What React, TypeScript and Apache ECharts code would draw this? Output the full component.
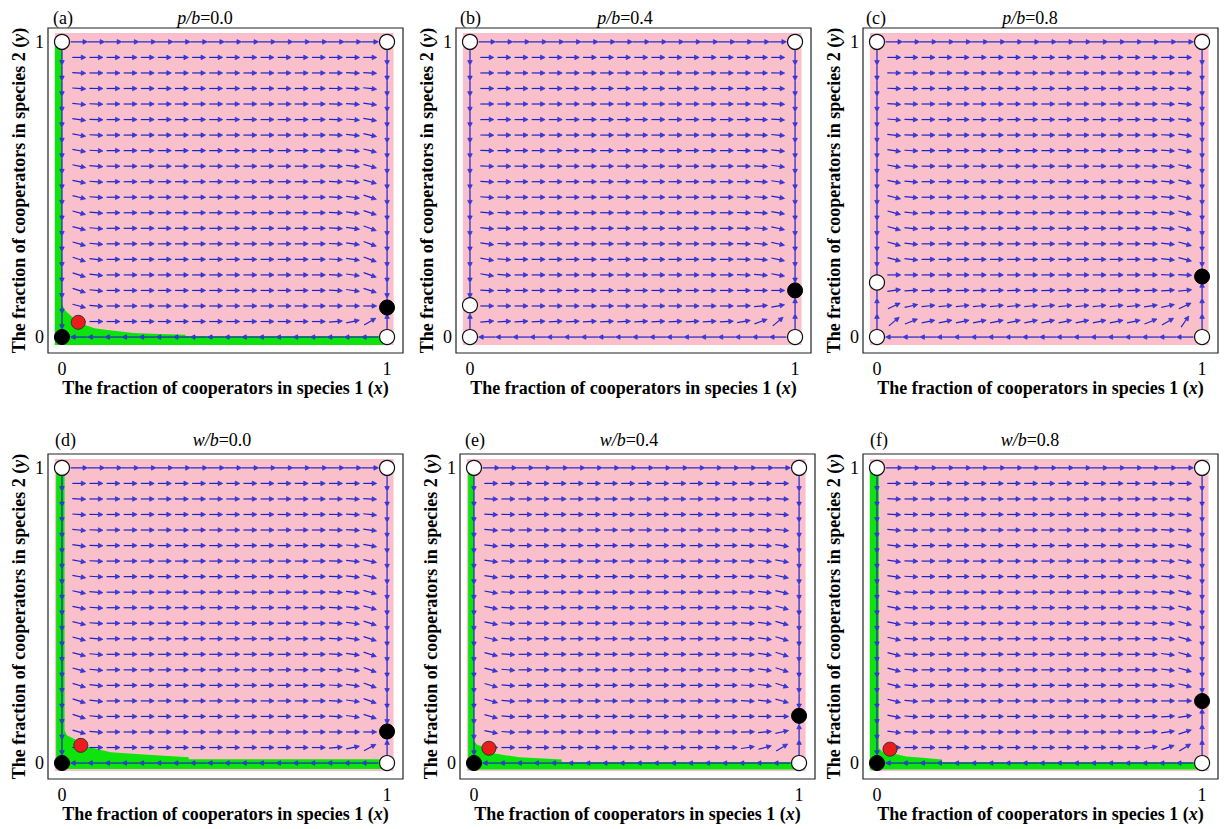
import React, { useEffect, useRef } from "react";
import * as echarts from "echarts";

// grid of arrow positions (0..1 in 19 steps)
const GRID = [0, 0.0526, 0.1053, 0.1579, 0.2105, 0.2632, 0.3158, 0.3684, 0.4211, 0.4737, 0.5263, 0.5789, 0.6316, 0.6842, 0.7368, 0.7895, 0.8421, 0.8947, 0.9474, 1];
const TICKS = [0, 1];

const PANEL_LABELS = ["(a)", "(b)", "(c)", "(d)", "(e)", "(f)"];
const PARAM_NAMES = ["p", "p", "p", "w", "w", "w"];
const PARAM_VALUES = ["0.0", "0.4", "0.8", "0.0", "0.4", "0.8"];

// arrow tilt (degrees) per interior row (bottom -> top), for column groups
const ZERO18 = [0, 0, 0, 0, 0, 0, 0, 0, 0, 0, 0, 0, 0, 0, 0, 0, 0, 0];
const A_FIRST = [0, -15, -18, -18, -18, -16, -15, -15, -14, -12, -12, -10, -10, -8, -6, -4, -2, 0];
const A_SECOND = [0, -5, -6, -6, -6, -5, -5, -5, -4, -4, -4, -3, -3, -2, -2, -1, 0, 0];
const A_THIRD_LAST = [5, 0, -3, -3, -3, -3, -3, -3, -3, -3, -3, -2, -2, -2, -1, -1, 0, 0];
const A_PENULT = [12, 0, -8, -8, -8, -8, -8, -8, -8, -7, -7, -6, -6, -5, -4, -3, -2, 0];
const A_LAST = [30, 0, -18, -20, -20, -20, -20, -18, -18, -16, -15, -14, -12, -10, -8, -6, -3, 0];

const B_FIRST = [5, 0, -3, -10, -10, -8, -6, -5, -4, -3, -2, -2, -1, 0, 0, 0, 0, 0];
const B_SECOND = [3, 0, -1, -4, -4, -3, -2, -2, -1, -1, -1, 0, 0, 0, 0, 0, 0, 0];
const B_MID = [3, 0, 0, 0, 0, 0, 0, 0, 0, 0, 0, 0, 0, 0, 0, 0, 0, 0];
const B_THIRD_LAST = [10, 2, 0, -2, -2, -2, -2, -2, -2, -1, -1, -1, 0, 0, 0, 0, 0, 0];
const B_PENULT = [20, 5, 0, -4, -5, -5, -5, -4, -4, -3, -3, -2, -2, -1, -1, 0, 0, 0];
const B_LAST = [40, 10, 0, -10, -12, -12, -12, -10, -10, -8, -8, -6, -5, -4, -3, -2, -1, 0];

const C_FIRST = [40, 25, 8, 0, -15, -16, -16, -15, -14, -12, -10, -8, -6, -5, -4, -2, -1, 0];
const C_SECOND = [22, 12, 3, 0, -6, -6, -6, -6, -5, -5, -4, -3, -2, -2, -1, -1, 0, 0];
const C_MID = [12, 6, 2, 0, 0, 0, 0, 0, 0, 0, 0, 0, 0, 0, 0, 0, 0, 0];
const C_THIRD_LAST = [22, 8, 2, 0, -2, -2, -2, -2, -2, -2, -2, -1, -1, -1, 0, 0, 0, 0];
const C_PENULT = [30, 12, 4, -2, -6, -6, -6, -6, -5, -5, -4, -4, -3, -2, -2, -1, 0, 0];
const C_LAST = [55, 25, 6, -3, -15, -16, -16, -15, -14, -13, -12, -10, -8, -6, -5, -3, -1, 0];

const D_FIRST = [0, -16, -18, -18, -17, -16, -15, -15, -14, -12, -12, -10, -10, -8, -6, -4, -2, 0];
const D_SECOND = [0, -5, -6, -6, -6, -5, -5, -5, -4, -4, -4, -3, -3, -2, -2, -1, 0, 0];
const D_THIRD_LAST = [5, 0, -3, -3, -3, -3, -3, -3, -3, -3, -3, -2, -2, -2, -1, -1, 0, 0];
const D_PENULT = [12, 0, -8, -8, -8, -8, -8, -8, -8, -7, -7, -6, -6, -5, -4, -3, -2, 0];
const D_LAST = [28, 0, -18, -20, -20, -20, -19, -18, -18, -16, -15, -14, -12, -10, -8, -6, -3, 0];

const E_FIRST = [0, -12, -15, -16, -16, -15, -14, -13, -12, -11, -10, -9, -8, -6, -5, -3, -2, 0];
const E_SECOND = [0, -4, -5, -5, -5, -5, -4, -4, -4, -3, -3, -3, -2, -2, -1, -1, 0, 0];
const E_THIRD_LAST = [8, 2, 0, -3, -3, -3, -3, -3, -3, -2, -2, -2, -2, -1, -1, 0, 0, 0];
const E_PENULT = [15, 5, 0, -7, -8, -8, -8, -7, -7, -6, -6, -5, -5, -4, -3, -2, -1, 0];
const E_LAST = [32, 12, 0, -16, -18, -18, -18, -17, -16, -15, -14, -12, -10, -8, -6, -4, -2, 0];

const F_FIRST = [0, -8, -12, -14, -15, -15, -14, -13, -12, -11, -10, -9, -8, -6, -5, -3, -2, 0];
const F_SECOND = [0, -3, -4, -5, -5, -5, -4, -4, -4, -3, -3, -3, -2, -2, -1, -1, 0, 0];
const F_THIRD_LAST = [8, 3, 1, 0, -2, -2, -2, -2, -2, -2, -2, -1, -1, -1, 0, 0, 0, 0];
const F_PENULT = [18, 8, 3, 0, -6, -7, -7, -7, -6, -6, -5, -5, -4, -3, -3, -2, -1, 0];
const F_LAST = [32, 18, 8, 0, -14, -16, -16, -16, -15, -14, -13, -12, -10, -8, -6, -4, -2, 0];

// fixed points
const A_WHITE = [[0, 1], [1, 1], [1, 0]];
const A_BLACK = [[0, 0], [1, 0.1]];
const A_RED = [[0.05, 0.05]];
const B_WHITE = [[0, 1], [1, 1], [0, 0], [1, 0], [0, 0.108]];
const B_BLACK = [[1, 0.158]];
const C_WHITE = [[0, 1], [1, 1], [0, 0], [1, 0], [0, 0.185]];
const C_BLACK = [[1, 0.205]];
const D_WHITE = [[0, 1], [1, 1], [1, 0]];
const D_BLACK = [[0, 0], [1, 0.107]];
const D_RED = [[0.058, 0.06]];
const E_WHITE = [[0, 1], [1, 1], [1, 0]];
const E_BLACK = [[0, 0], [1, 0.16]];
const E_RED = [[0.046, 0.05]];
const F_WHITE = [[0, 1], [1, 1], [1, 0]];
const F_BLACK = [[0, 0], [1, 0.21]];
const F_RED = [[0.04, 0.047]];

// edge target along left side (y of point the left column flows toward)
const LEFT_TARGET = [0, 0.108, 0.185, 0, 0, 0];

// basins (green)
const A_GREEN = [[-0.022, 1.0], [0, 1.0], [0, 0.11], [0.01, 0.09], [0.03, 0.07], [0.06, 0.045], [0.1, 0.03], [0.14, 0.024], [0.22, 0.014], [0.3, 0.01], [0.38, 0.008], [0.38, 0.004], [0.99, 0.004], [0.99, -0.027], [-0.022, -0.027]];
const D_GREEN = [[-0.018, 1.0], [0.008, 1.0], [0.008, 0.11], [0.015, 0.094], [0.045, 0.077], [0.08, 0.054], [0.15, 0.037], [0.24, 0.03], [0.39, 0.02], [0.39, 0.013], [0.99, 0.013], [0.99, -0.02], [-0.018, -0.02]];
const E_GREEN = [[-0.018, 1.0], [0, 1.0], [0, 0.075], [0.01, 0.062], [0.03, 0.054], [0.058, 0.034], [0.1, 0.026], [0.14, 0.02], [0.27, 0.012], [0.27, 0.004], [0.99, 0.004], [0.99, -0.022], [-0.018, -0.022]];
const F_GREEN = [[-0.022, 1.0], [0.006, 1.0], [0.006, 0.05], [0.02, 0.035], [0.06, 0.03], [0.09, 0.022], [0.14, 0.018], [0.2, 0.012], [0.2, 0.004], [0.99, 0.004], [0.99, -0.022], [-0.022, -0.022]];
const NO_GREEN: number[][] = [];

const PINK_BOX = [-0.022, -0.027, 1.02, 1.03];

const PANELS = [
  { first: A_FIRST, second: A_SECOND, mid: ZERO18, third: A_THIRD_LAST, penult: A_PENULT, last: A_LAST, white: A_WHITE, black: A_BLACK, red: A_RED, green: A_GREEN },
  { first: B_FIRST, second: B_SECOND, mid: B_MID, third: B_THIRD_LAST, penult: B_PENULT, last: B_LAST, white: B_WHITE, black: B_BLACK, red: [], green: NO_GREEN },
  { first: C_FIRST, second: C_SECOND, mid: C_MID, third: C_THIRD_LAST, penult: C_PENULT, last: C_LAST, white: C_WHITE, black: C_BLACK, red: [], green: NO_GREEN },
  { first: D_FIRST, second: D_SECOND, mid: ZERO18, third: D_THIRD_LAST, penult: D_PENULT, last: D_LAST, white: D_WHITE, black: D_BLACK, red: D_RED, green: D_GREEN },
  { first: E_FIRST, second: E_SECOND, mid: ZERO18, third: E_THIRD_LAST, penult: E_PENULT, last: E_LAST, white: E_WHITE, black: E_BLACK, red: E_RED, green: E_GREEN },
  { first: F_FIRST, second: F_SECOND, mid: ZERO18, third: F_THIRD_LAST, penult: F_PENULT, last: F_LAST, white: F_WHITE, black: F_BLACK, red: F_RED, green: F_GREEN },
];

// layout
const PANEL_LEFT = [48, 456, 863, 48, 460, 863];
const PANEL_TOP = [28, 28, 28, 454, 454, 454];
const PANEL_W = 355;
const PANEL_H = 325;
const LABEL_X = [53, 460, 866, 55, 465, 870];
const TITLE_X = [205, 625, 1030, 222, 629, 1030];
const TITLE_Y = [18, 18, 18, 440, 440, 440];

const FONT = "Liberation Serif";
const ARROW = "#2222c4";
const HEAD = "#3a3ae4";
const PINK = "#f9c0cb";
const GREEN = "#0ee30e";

function buildArrows(i: number) {
  const p = PANELS[i];
  const out: number[][] = [];
  for (let j = 1; j <= 18; j++) {
    for (let k = 1; k <= 18; k++) {
      const r = j - 1;
      let t = p.mid[r];
      if (k === 1) t = p.first[r];
      else if (k === 2) t = p.second[r];
      else if (k === 16) t = p.third[r];
      else if (k === 17) t = p.penult[r];
      else if (k === 18) t = p.last[r];
      out.push([GRID[k], GRID[j], t, 13.5]);
    }
  }
  const blackY = p.black.find((b) => b[0] === 1)![1];
  for (let k = 1; k <= 18; k++) {
    out.push([GRID[k], 1, 0, 17]);
    out.push([GRID[k], 0, 180, 17]);
  }
  for (let j = 1; j <= 18; j++) {
    const y = GRID[j];
    out.push([0, y, y > LEFT_TARGET[i] ? -90 : 90, 15.5]);
    out.push([1, y, y > blackY ? -90 : 90, 15.5]);
  }
  return out;
}

function arrowRender(params: any, api: any) {
  const c = api.coord([api.value(0), api.value(1)]);
  const ang = (api.value(2) * Math.PI) / 180;
  const L = api.value(3);
  const ux = Math.cos(ang);
  const uy = -Math.sin(ang);
  const x1 = c[0] - (ux * L) / 2;
  const y1 = c[1] - (uy * L) / 2;
  const x2 = c[0] + (ux * L) / 2;
  const y2 = c[1] + (uy * L) / 2;
  const hl = 4.6;
  const hw = 2.3;
  const bx = x2 - ux * hl;
  const by = y2 - uy * hl;
  const px = -uy;
  const py = ux;
  return {
    type: "group",
    children: [
      { type: "line", shape: { x1, y1, x2: bx, y2: by }, style: { stroke: ARROW, lineWidth: 1.2 } },
      {
        type: "polygon",
        shape: { points: [[x2, y2], [bx + px * hw, by + py * hw], [bx - px * hw, by - py * hw]] },
        style: { fill: HEAD, stroke: ARROW, lineWidth: 0.6 },
      },
    ],
  };
}

export default function App() {
  const ref = useRef<HTMLDivElement>(null);
  useEffect(() => {
    if (!ref.current) return;
    const chart = echarts.init(ref.current, null, { renderer: "svg" });
    const grids: any[] = [];
    const xAxes: any[] = [];
    const yAxes: any[] = [];
    const series: any[] = [];
    const graphics: any[] = [];
    const nameRich = {
      t: { fontFamily: FONT, fontSize: 18, fontWeight: "bold", color: "#000" },
      i: { fontFamily: FONT, fontSize: 18, fontWeight: "bold", fontStyle: "italic", color: "#000" },
    };
    PANELS.forEach((p, i) => {
      grids.push({
        left: PANEL_LEFT[i], top: PANEL_TOP[i], width: PANEL_W, height: PANEL_H,
        show: true, borderColor: "#222", borderWidth: 1.2, backgroundColor: "transparent",
      });
      xAxes.push({
        gridIndex: i, type: "value", min: -0.043, max: 1.049,
        axisLine: { show: false }, splitLine: { show: false },
        axisTick: { show: true, customValues: TICKS, length: 5, lineStyle: { color: "#222" } },
        axisLabel: { customValues: TICKS, fontFamily: FONT, fontSize: 18, color: "#000", margin: 7, formatter: (v: number) => String(v) },
        name: "{t|The fraction of cooperators in species 1 }{t|(}{i|x}{t|)}",
        nameLocation: "middle", nameGap: 24,
        nameTextStyle: { fontFamily: FONT, fontSize: 18, fontWeight: "bold", rich: nameRich },
      });
      yAxes.push({
        gridIndex: i, type: "value", min: -0.054, max: 1.047,
        axisLine: { show: false }, splitLine: { show: false },
        axisTick: { show: true, customValues: TICKS, length: 5, lineStyle: { color: "#222" } },
        axisLabel: { customValues: TICKS, fontFamily: FONT, fontSize: 18, color: "#000", margin: 4, formatter: (v: number) => String(v) },
        name: "{t|The fraction of cooperators in species 2 }{t|(}{i|y}{t|)}",
        nameLocation: "middle", nameGap: 20,
        nameTextStyle: { fontFamily: FONT, fontSize: 18, fontWeight: "bold", rich: nameRich },
      });
      series.push({
        type: "custom", xAxisIndex: i, yAxisIndex: i, z: 1, silent: true,
        data: [PINK_BOX],
        renderItem: (params: any, api: any) => {
          const a = api.coord([api.value(0), api.value(3)]);
          const b = api.coord([api.value(2), api.value(1)]);
          return { type: "rect", shape: { x: a[0], y: a[1], width: b[0] - a[0], height: b[1] - a[1] }, style: { fill: PINK } };
        },
      });
      if (p.green.length) {
        series.push({
          type: "custom", xAxisIndex: i, yAxisIndex: i, z: 2, silent: true,
          data: p.green,
          renderItem: (params: any, api: any) => {
            if (params.dataIndex !== 0) return null;
            return {
              type: "polygon",
              shape: { points: p.green.map((pt) => api.coord(pt)) },
              style: { fill: GREEN },
            };
          },
        });
      }
      series.push({
        type: "custom", xAxisIndex: i, yAxisIndex: i, z: 3, silent: true,
        data: buildArrows(i),
        renderItem: arrowRender,
      });
      series.push({
        type: "scatter", xAxisIndex: i, yAxisIndex: i, z: 5, symbolSize: 15, silent: true,
        data: p.white, itemStyle: { color: "#fff", borderColor: "#111", borderWidth: 1.2, opacity: 1 },
      });
      series.push({
        type: "scatter", xAxisIndex: i, yAxisIndex: i, z: 5, symbolSize: 15, silent: true,
        data: p.black, itemStyle: { color: "#000", borderColor: "#000", borderWidth: 1, opacity: 1 },
      });
      if (p.red.length) {
        series.push({
          type: "scatter", xAxisIndex: i, yAxisIndex: i, z: 5, symbolSize: 14, silent: true,
          data: p.red, itemStyle: { color: "#ec1c1c", borderColor: "#333", borderWidth: 1, opacity: 1 },
        });
      }
      graphics.push({
        type: "text", x: LABEL_X[i], y: TITLE_Y[i],
        style: { text: PANEL_LABELS[i], fontFamily: FONT, fontSize: 18, fill: "#000", verticalAlign: "middle" },
      });
      graphics.push({
        type: "text", x: TITLE_X[i], y: TITLE_Y[i],
        style: {
          text: `{i|${PARAM_NAMES[i]}/b}{n|=${PARAM_VALUES[i]}}`,
          align: "center", verticalAlign: "middle",
          rich: {
            i: { fontFamily: FONT, fontSize: 18, fontStyle: "italic", fill: "#000" },
            n: { fontFamily: FONT, fontSize: 18, fill: "#000" },
          },
        },
      });
    });
    chart.setOption({
      animation: false,
      backgroundColor: "#fff",
      grid: grids,
      xAxis: xAxes,
      yAxis: yAxes,
      series,
      graphic: graphics,
    });
    return () => chart.dispose();
  }, []);
  return <div ref={ref} style={{ position: "absolute", left: 0, top: 0, width: 1224, height: 829 }} />;
}
